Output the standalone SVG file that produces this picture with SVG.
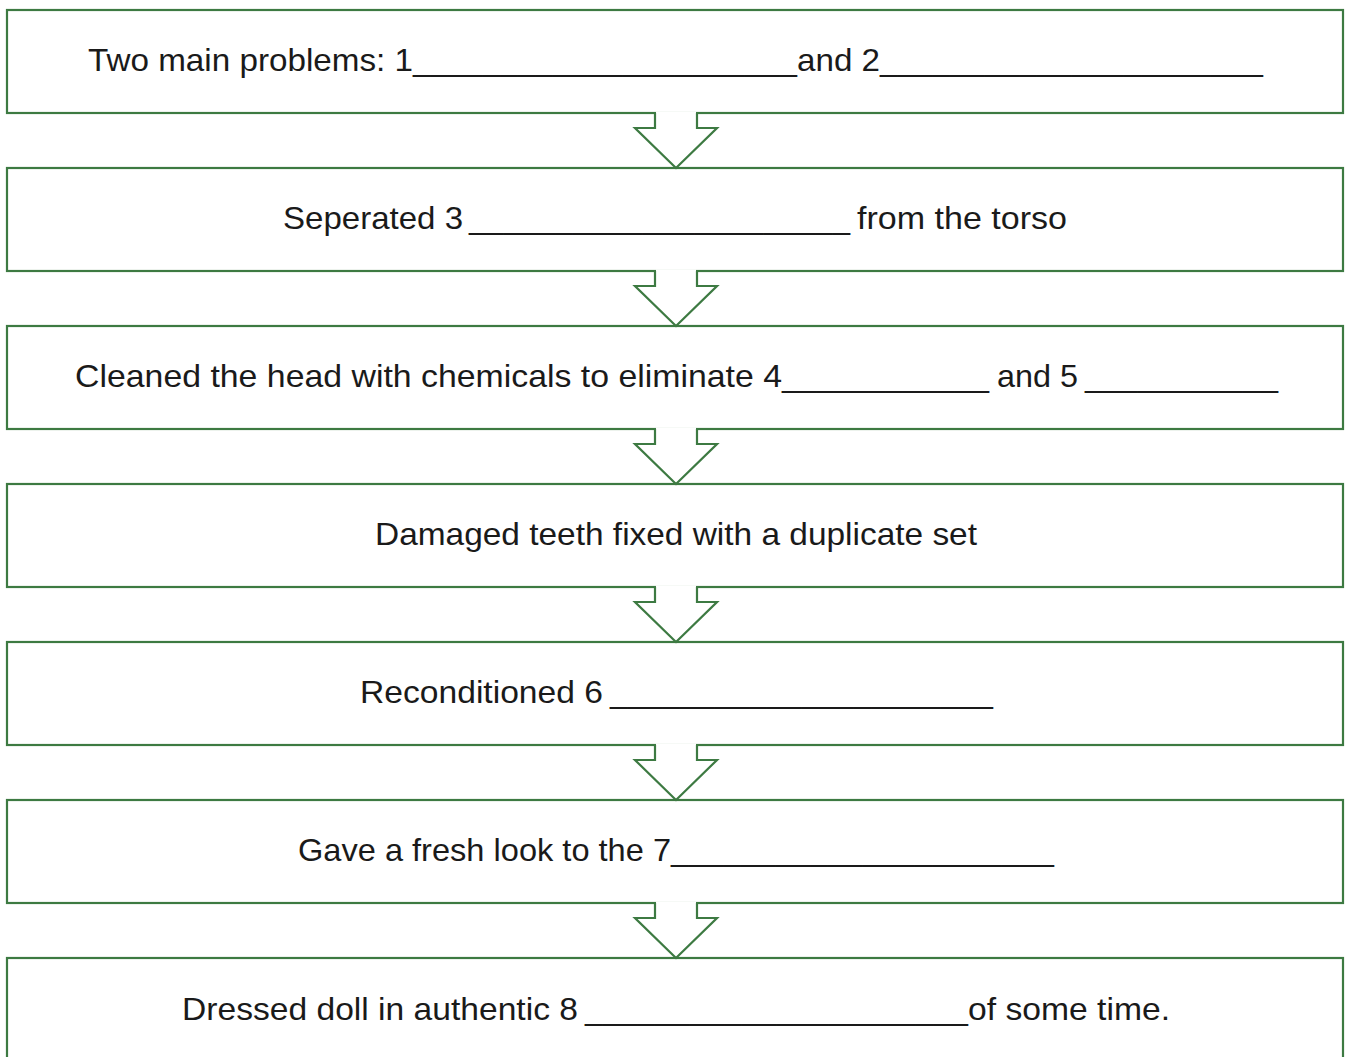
<svg xmlns="http://www.w3.org/2000/svg" width="1346" height="1057" viewBox="0 0 1346 1057">
<style>
.box{fill:#ffffff;stroke:#3d7a42;stroke-width:2.2}
.arr{fill:#ffffff;stroke:#3d7a42;stroke-width:2.2;stroke-linejoin:miter}
.arrfill{fill:#ffffff;stroke:none}
text{font-family:"Liberation Sans",Arial,sans-serif;font-size:32px;fill:#1a1a1a}
</style>
<rect width="1346" height="1057" fill="#ffffff"/>
<g id="node1"><rect class="box" x="7" y="10" width="1336" height="103"/>
<text y="71"><tspan x="88" textLength="325" lengthAdjust="spacingAndGlyphs">Two main problems: 1</tspan><tspan x="413" textLength="384" lengthAdjust="spacingAndGlyphs">______________________</tspan><tspan x="797" textLength="83" lengthAdjust="spacingAndGlyphs">and 2</tspan><tspan x="880" textLength="383" lengthAdjust="spacingAndGlyphs">______________________</tspan></text></g>
<g id="node2"><rect class="box" x="7" y="168" width="1336" height="103"/>
<text y="229"><tspan x="283" textLength="180" lengthAdjust="spacingAndGlyphs">Seperated 3</tspan><tspan x="469" textLength="381" lengthAdjust="spacingAndGlyphs">______________________</tspan><tspan x="857" textLength="210" lengthAdjust="spacingAndGlyphs">from the torso</tspan></text></g>
<g id="node3"><rect class="box" x="7" y="326" width="1336" height="103"/>
<text y="387"><tspan x="75" textLength="707" lengthAdjust="spacingAndGlyphs">Cleaned the head with chemicals to eliminate 4</tspan><tspan x="782" textLength="207" lengthAdjust="spacingAndGlyphs">____________</tspan><tspan x="997" textLength="81" lengthAdjust="spacingAndGlyphs">and 5</tspan><tspan x="1085" textLength="193" lengthAdjust="spacingAndGlyphs">___________</tspan></text></g>
<g id="node4"><rect class="box" x="7" y="484" width="1336" height="103"/>
<text y="545" x="375" textLength="602" lengthAdjust="spacingAndGlyphs">Damaged teeth fixed with a duplicate set</text></g>
<g id="node5"><rect class="box" x="7" y="642" width="1336" height="103"/>
<text y="703"><tspan x="360" textLength="243" lengthAdjust="spacingAndGlyphs">Reconditioned 6</tspan><tspan x="610" textLength="383" lengthAdjust="spacingAndGlyphs">______________________</tspan></text></g>
<g id="node6"><rect class="box" x="7" y="800" width="1336" height="103"/>
<text y="861"><tspan x="298" textLength="373" lengthAdjust="spacingAndGlyphs">Gave a fresh look to the 7</tspan><tspan x="671" textLength="383" lengthAdjust="spacingAndGlyphs">______________________</tspan></text></g>
<g id="node7"><rect class="box" x="7" y="958" width="1336" height="103"/>
<text y="1020"><tspan x="182" textLength="396" lengthAdjust="spacingAndGlyphs">Dressed doll in authentic 8</tspan><tspan x="585" textLength="383" lengthAdjust="spacingAndGlyphs">______________________</tspan><tspan x="968" textLength="202" lengthAdjust="spacingAndGlyphs">of some time.</tspan></text></g>
<g id="connectors">
<g transform="translate(0,113)"><polygon class="arrfill" points="656,-1.5 656,15 635,15 676,55 717,15 696,15 696,-1.5"/><polyline class="arr" points="655,0 655,15 635,15 676,55 717,15 697,15 697,0"/></g>
<g transform="translate(0,271)"><polygon class="arrfill" points="656,-1.5 656,15 635,15 676,55 717,15 696,15 696,-1.5"/><polyline class="arr" points="655,0 655,15 635,15 676,55 717,15 697,15 697,0"/></g>
<g transform="translate(0,429)"><polygon class="arrfill" points="656,-1.5 656,15 635,15 676,55 717,15 696,15 696,-1.5"/><polyline class="arr" points="655,0 655,15 635,15 676,55 717,15 697,15 697,0"/></g>
<g transform="translate(0,587)"><polygon class="arrfill" points="656,-1.5 656,15 635,15 676,55 717,15 696,15 696,-1.5"/><polyline class="arr" points="655,0 655,15 635,15 676,55 717,15 697,15 697,0"/></g>
<g transform="translate(0,745)"><polygon class="arrfill" points="656,-1.5 656,15 635,15 676,55 717,15 696,15 696,-1.5"/><polyline class="arr" points="655,0 655,15 635,15 676,55 717,15 697,15 697,0"/></g>
<g transform="translate(0,903)"><polygon class="arrfill" points="656,-1.5 656,15 635,15 676,55 717,15 696,15 696,-1.5"/><polyline class="arr" points="655,0 655,15 635,15 676,55 717,15 697,15 697,0"/></g>
</g>
</svg>
